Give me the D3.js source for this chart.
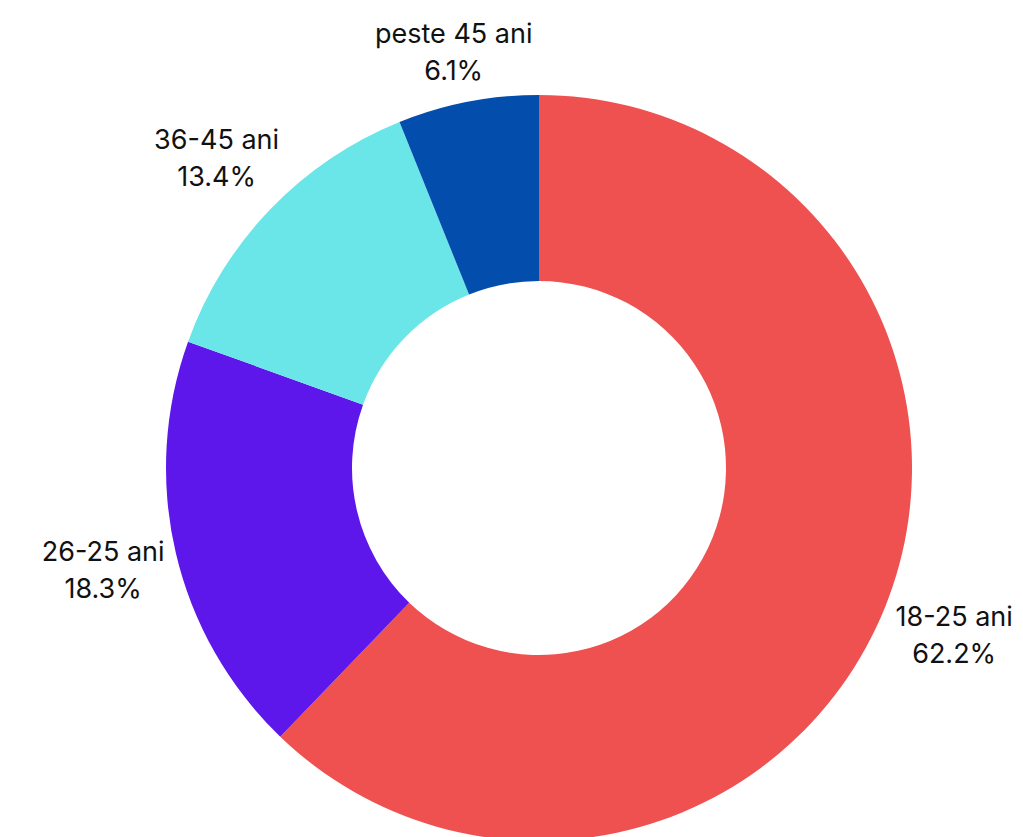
<!DOCTYPE html>
<html>
<head>
<meta charset="utf-8">
<script src="https://cdn.jsdelivr.net/npm/d3@7"></script>
<style>
  html, body { margin: 0; padding: 0; background: #fff; }
  #chart { width: 1023px; height: 837px; overflow: hidden; }
  text { font-family: Inter, "Liberation Sans", sans-serif; font-size: 27px; fill: #111; }
</style>
</head>
<body>
<div id="chart"></div>
<script>
// Age groups and their share (%)
const categories = ["18-25 ani", "26-25 ani", "36-45 ani", "peste 45 ani"];
const values = [62.2, 18.3, 13.4, 6.1];
const colors = ["#EF5050", "#5E17EB", "#6AE6E8", "#034EAD"];

function setupChart() {
    const width = 1023, height = 837;
    const cx = 539, cy = 468;
    const outer = 373, inner = 187;

    const svg = d3.select("#chart").append("svg")
        .attr("width", width)
        .attr("height", height)
      .append("g")
        .attr("transform", `translate(${cx},${cy})`);

    const data = categories.map((c, i) => ({ label: c, value: values[i], color: colors[i] }));

    const pie = d3.pie()
        .sort(null)
        .value(d => d.value);

    const arc = d3.arc()
        .innerRadius(inner)
        .outerRadius(outer);

    // label ring sits a bit outside the donut
    const labelArc = d3.arc()
        .innerRadius(outer * 1.2)
        .outerRadius(outer * 1.2);

    const arcs = pie(data);

    svg.selectAll("path")
        .data(arcs)
        .join("path")
        .attr("d", arc)
        .attr("fill", d => d.data.color);

    const labels = svg.selectAll("g.label")
        .data(arcs)
        .join("g")
        .attr("class", "label")
        .attr("transform", d => {
            const [x, y] = labelArc.centroid(d);
            // keep labels inside the top edge
            return `translate(${x},${Math.max(y, 52 - cy)})`;
        });

    labels.append("text")
        .attr("text-anchor", "middle")
        .attr("y", -9)
        .text(d => d.data.label);

    labels.append("text")
        .attr("text-anchor", "middle")
        .attr("y", 28)
        .text(d => d.data.value.toFixed(1) + "%");
}

setupChart();
</script>
</body>
</html>
